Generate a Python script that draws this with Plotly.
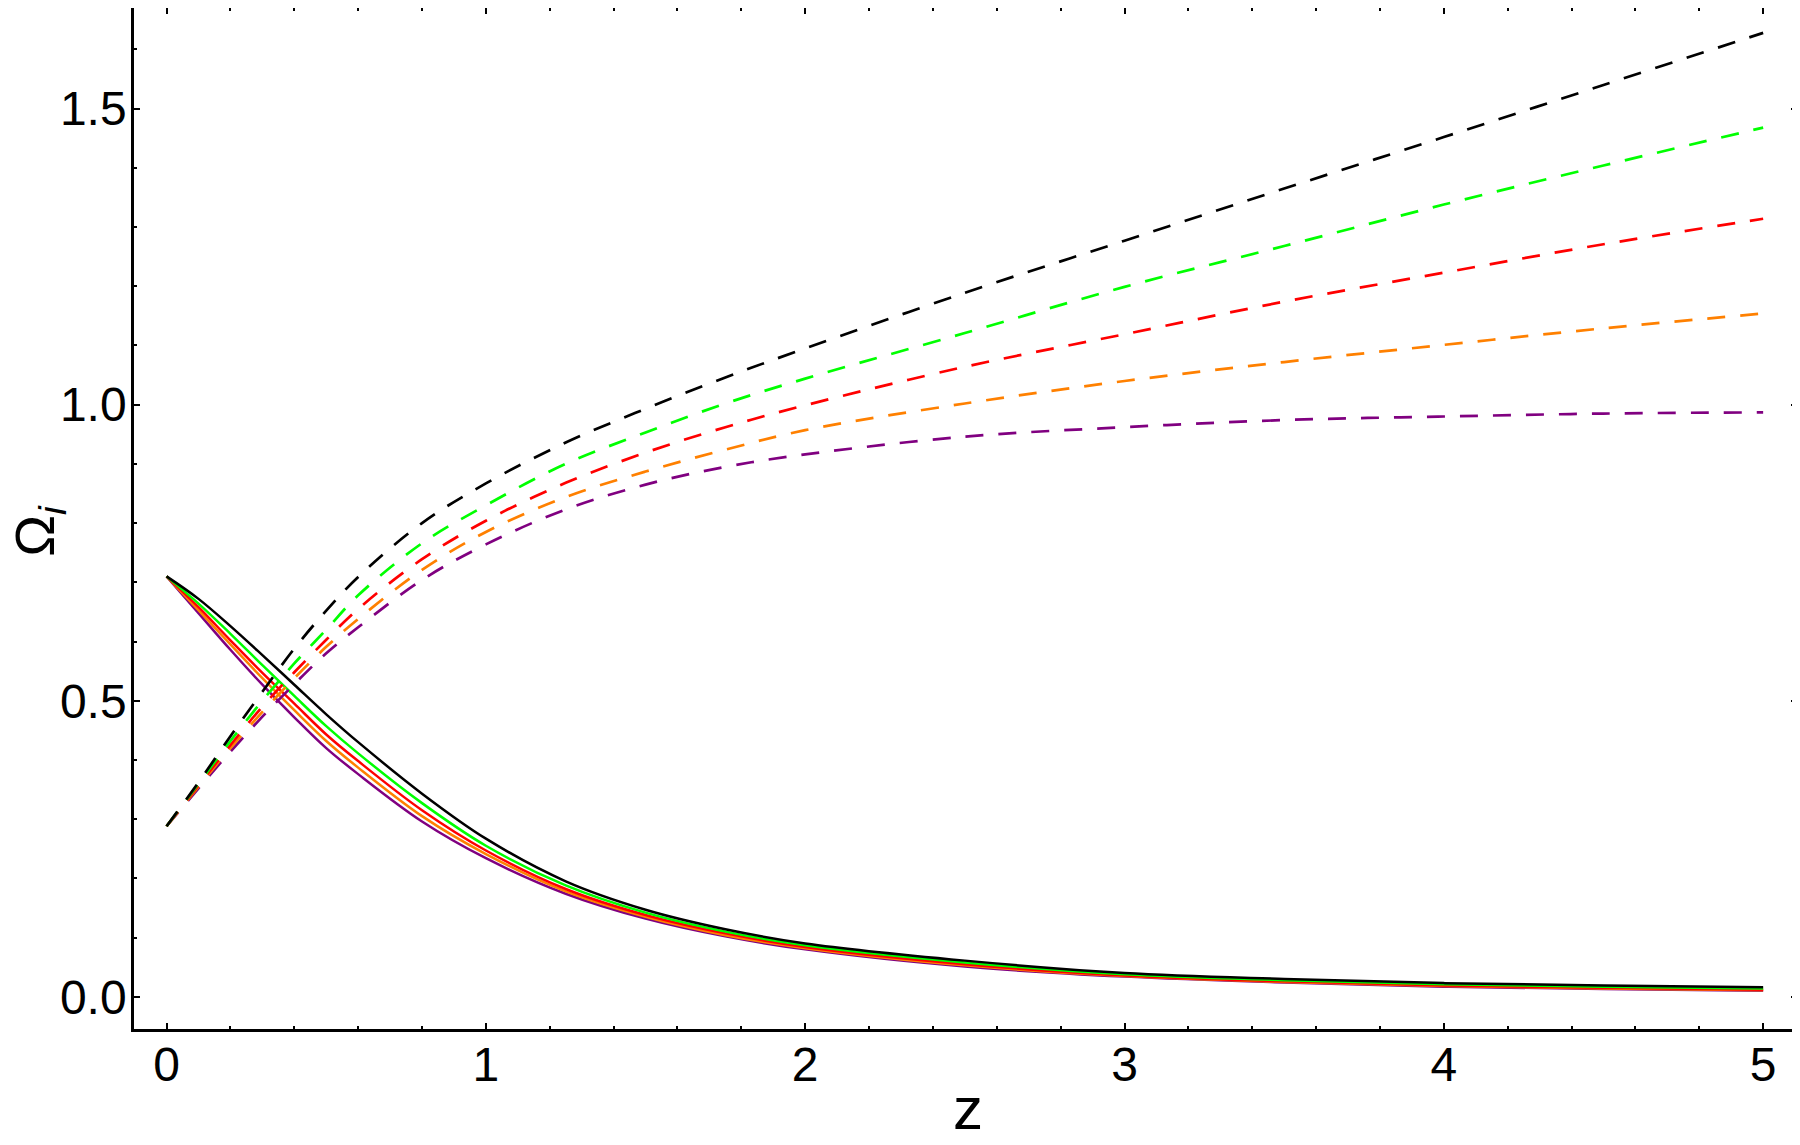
import plotly.graph_objects as go

# redshift grid
z = [0, 0.1, 0.2, 0.3, 0.4, 0.5, 0.6, 0.8, 1.0, 1.25, 1.5, 1.75, 2.0, 2.5, 3.0, 3.5, 4.0, 4.5, 5.0]

# dashed curves (rising)
dash_black  = [0.288, 0.362, 0.440, 0.515, 0.588, 0.652, 0.709, 0.800, 0.867, 0.936, 0.993, 1.046, 1.095, 1.189, 1.277, 1.365, 1.452, 1.540, 1.628]
dash_green  = [0.288, 0.360, 0.432, 0.500, 0.563, 0.620, 0.678, 0.766, 0.830, 0.900, 0.953, 1.002, 1.044, 1.121, 1.199, 1.268, 1.338, 1.404, 1.468]
dash_red    = [0.288, 0.357, 0.425, 0.490, 0.548, 0.603, 0.655, 0.739, 0.804, 0.868, 0.919, 0.962, 0.999, 1.064, 1.119, 1.174, 1.223, 1.271, 1.314]
dash_orange = [0.288, 0.355, 0.420, 0.481, 0.538, 0.591, 0.638, 0.721, 0.785, 0.844, 0.887, 0.924, 0.957, 1.002, 1.040, 1.072, 1.101, 1.129, 1.154]
dash_purple = [0.288, 0.352, 0.414, 0.473, 0.528, 0.580, 0.624, 0.704, 0.764, 0.823, 0.865, 0.895, 0.916, 0.946, 0.962, 0.974, 0.980, 0.985, 0.987]

# solid curves (falling)
solid_black  = [0.710, 0.672, 0.626, 0.577, 0.527, 0.477, 0.430, 0.343, 0.267, 0.195, 0.147, 0.114, 0.090, 0.061, 0.040, 0.030, 0.023, 0.019, 0.016]
solid_green  = [0.710, 0.664, 0.613, 0.560, 0.508, 0.457, 0.411, 0.327, 0.255, 0.188, 0.142, 0.110, 0.087, 0.058, 0.038, 0.028, 0.021, 0.017, 0.014]
solid_red    = [0.710, 0.658, 0.602, 0.547, 0.495, 0.443, 0.398, 0.315, 0.247, 0.182, 0.138, 0.107, 0.084, 0.055, 0.036, 0.026, 0.019, 0.015, 0.012]
solid_orange = [0.710, 0.653, 0.595, 0.538, 0.484, 0.432, 0.387, 0.305, 0.241, 0.178, 0.135, 0.104, 0.082, 0.053, 0.035, 0.025, 0.018, 0.014, 0.011]
solid_purple = [0.710, 0.648, 0.586, 0.527, 0.472, 0.420, 0.376, 0.296, 0.234, 0.174, 0.132, 0.102, 0.080, 0.051, 0.034, 0.024, 0.017, 0.013, 0.010]

x_ticks = [0, 1, 2, 3, 4, 5]
y_ticks = [0.0, 0.5, 1.0, 1.5]
y_ticklabels = ["0.0", "0.5", "1.0", "1.5"]

colors = {"black": "#000000", "green": "#00ff00", "red": "#ff0000",
          "orange": "#ff8000", "purple": "#800080"}

fig = go.Figure()

solids = [("purple", solid_purple), ("orange", solid_orange), ("red", solid_red),
          ("green", solid_green), ("black", solid_black)]
dashes = [("purple", dash_purple), ("orange", dash_orange), ("red", dash_red),
          ("green", dash_green), ("black", dash_black)]

for name, ys in solids:
    fig.add_trace(go.Scatter(x=z, y=ys, mode="lines", showlegend=False,
                             line=dict(color=colors[name], width=2.5, shape="spline", smoothing=1.0)))
for name, ys in dashes:
    fig.add_trace(go.Scatter(x=z, y=ys, mode="lines", showlegend=False,
                             line=dict(color=colors[name], width=2.7, dash="18px,15px",
                                       shape="spline", smoothing=1.0)))

font = "Liberation Sans, Arial, Helvetica, sans-serif"

# the page body adds an 8px offset; the layout compensates for it
fig.update_layout(
    width=1792, height=1137,
    margin=dict(l=126, r=3, t=0, b=116),
    paper_bgcolor="white", plot_bgcolor="white",
    font=dict(family=font, color="black", size=48),
    xaxis=dict(range=[-0.102, 5.106], tickvals=x_ticks, ticktext=[str(v) for v in x_ticks],
               ticks="inside", ticklen=6, tickwidth=2, tickcolor="black",
               showline=True, linewidth=2.5, linecolor="black", mirror="allticks",
               showgrid=False, zeroline=False, automargin=False, ticklabelstandoff=-8,
               tickfont=dict(size=48, family=font),
               minor=dict(dtick=0.2, tick0=0, ticks="inside", ticklen=3, tickwidth=1.5,
                          tickcolor="black", showgrid=False)),
    yaxis=dict(range=[-0.0545, 1.670], tickvals=y_ticks, ticktext=y_ticklabels,
               ticks="inside", ticklen=6, tickwidth=2, tickcolor="black",
               showline=True, linewidth=2.5, linecolor="black", mirror="allticks",
               showgrid=False, zeroline=False, automargin=False, ticklabelstandoff=-5,
               tickfont=dict(size=48, family=font),
               minor=dict(dtick=0.1, tick0=0, ticks="inside", ticklen=3, tickwidth=1.5,
                          tickcolor="black", showgrid=False)),
    annotations=[
        dict(text="z", xref="paper", yref="paper", x=0.5015, y=0, xanchor="center",
             yanchor="top", yshift=-44, showarrow=False,
             font=dict(size=60, family=font, color="black")),
        dict(text="Ω<sub><i>i</i></sub>", xref="paper", yref="paper", x=0, y=0.488,
             xanchor="center", yanchor="middle", xshift=-95, textangle=-90,
             showarrow=False, font=dict(size=56, family=font, color="black")),
    ],
)

fig.write_html("out.html")
